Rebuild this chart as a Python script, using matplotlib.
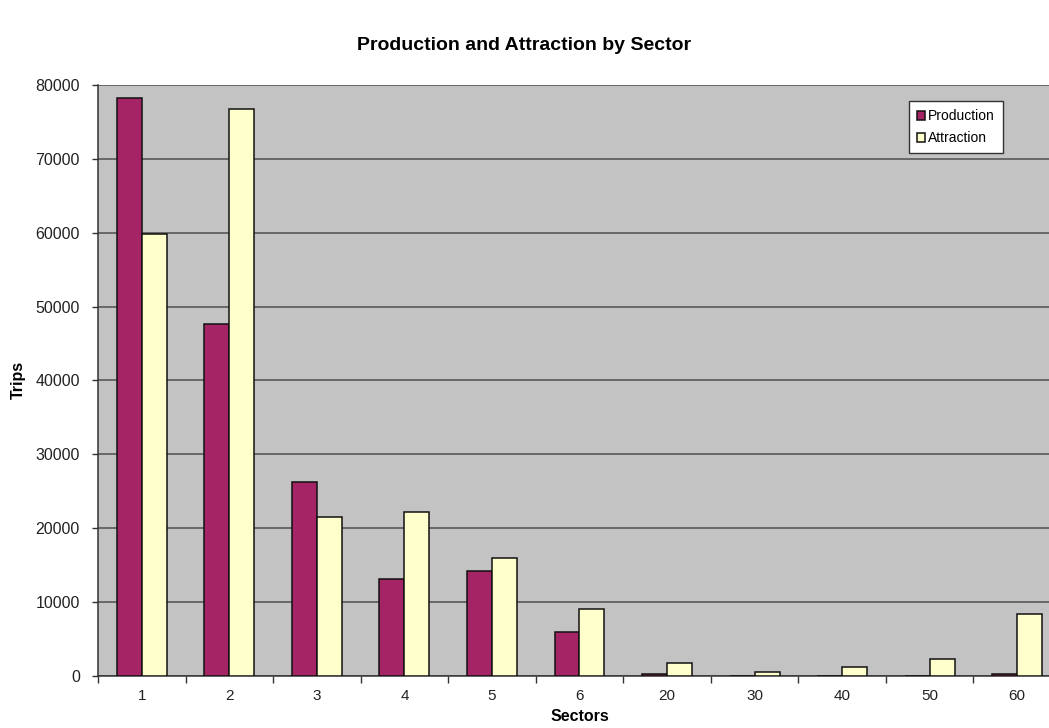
import matplotlib.pyplot as plt
import numpy as np
from matplotlib.ticker import MultipleLocator

plt.rcParams['font.family'] = ['Liberation Sans', 'DejaVu Sans']

sectors = ['1', '2', '3', '4', '5', '6', '20', '30', '40', '50', '60']
production = [78200, 47600, 26200, 13100, 14100, 5900, 150, 0, 0, 0, 200]
attraction = [59800, 76800, 21500, 22200, 15900, 9000, 1700, 500, 1200, 2300, 8300]

fig = plt.figure(figsize=(10.49, 7.28), dpi=100)
# plot area runs slightly past the right edge of the canvas
ax = fig.add_axes([0.0934, 0.0721, 0.918, 0.811])
ax.set_facecolor('#c3c3c3')

x = np.arange(len(sectors))
w = 0.285
ax.bar(x - w / 2, production, w, color='#a52466', edgecolor='#111111', lw=1.1,
       label='Production', zorder=3)
ax.bar(x + w / 2, attraction, w, color='#ffffcc', edgecolor='#111111', lw=1.1,
       label='Attraction', zorder=3)

ax.set_xlim(-0.5, len(sectors) - 0.5)
ax.set_ylim(0, 80000)
ax.yaxis.set_major_locator(MultipleLocator(10000))
ax.grid(axis='y', color='#505050', lw=1.1, zorder=1)

ax.set_xticks(x)
ax.set_xticklabels(sectors)
ax.set_xticks(np.arange(len(sectors) + 1) - 0.5, minor=True)
ax.tick_params(axis='x', which='major', length=0, pad=10, labelsize=11, labelcolor='#222222')
ax.tick_params(axis='x', which='minor', length=5, width=1, color='#333333', direction='out')
ax.tick_params(axis='y', length=4, width=1, pad=9, labelsize=11.5, labelcolor='#222222',
               color='#333333')

for side in ['top', 'right']:
    ax.spines[side].set_visible(False)
ax.spines['left'].set_color('#333333')
ax.spines['bottom'].set_color('#333333')
ax.spines['left'].set_linewidth(1.1)
ax.spines['bottom'].set_linewidth(1.1)

ax.set_xlabel('Sectors', fontsize=11.5, fontweight='bold', labelpad=4)
ax.set_ylabel('Trips', fontsize=11.5, fontweight='bold', labelpad=7)
fig.text(0.5, 0.938, 'Production and Attraction by Sector', ha='center', va='center',
         fontsize=14, fontweight='bold')

leg = ax.legend(loc='upper left', bbox_to_anchor=(0.842, 0.973), borderaxespad=0,
                fontsize=10, handlelength=0.6, handleheight=0.6, handletextpad=0.2,
                labelspacing=0.55, borderpad=0.6, fancybox=False, framealpha=1,
                edgecolor='#333333')
leg.get_frame().set_linewidth(1)

fig.savefig('out.png', dpi=100)
